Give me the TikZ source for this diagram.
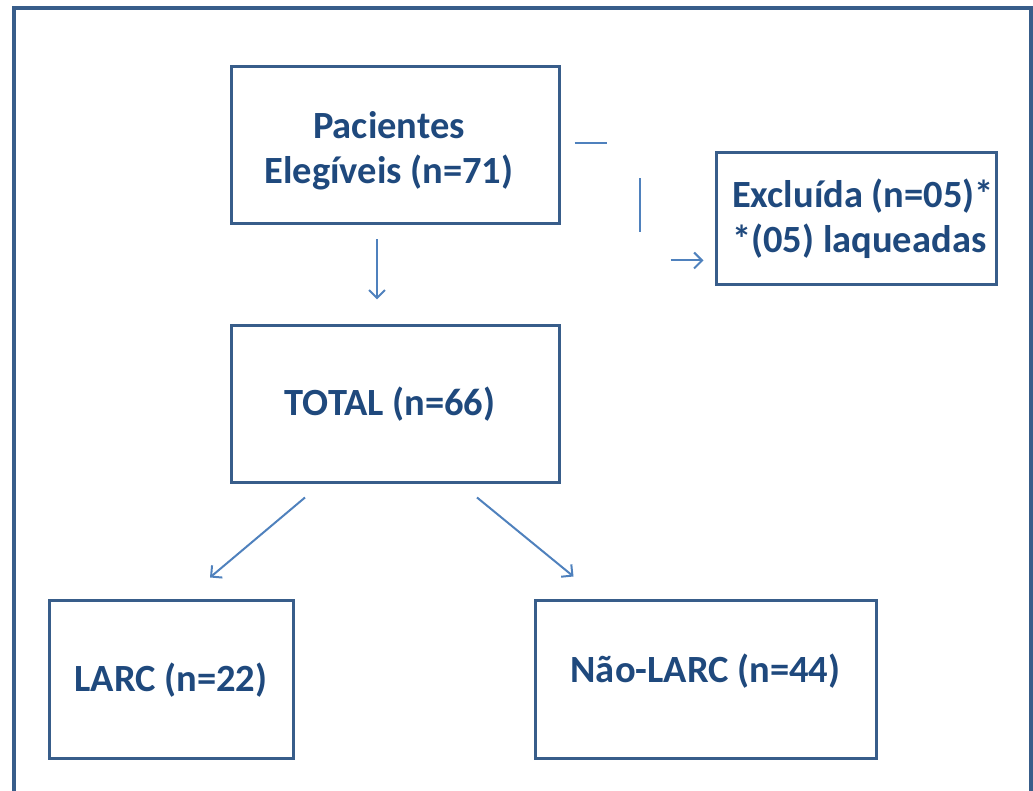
\documentclass[tikz,border=0pt]{standalone}
\usepackage{fontspec}
\setmainfont{Carlito}
\usetikzlibrary{positioning, arrows.meta}

\definecolor{boxline}{RGB}{56,93,138}
\definecolor{boxtext}{RGB}{31,73,125}
\definecolor{connline}{RGB}{79,129,189}

% shift text inside a box without changing its size
\newcommand{\nudge}[3]{\hspace*{#1}\raisebox{#2}[\height][\depth]{#3}}

\begin{document}
\begin{tikzpicture}[
    x=1pt, y=1pt,
    >={Straight Barb[length=8pt, width=16pt]},
    box/.style={
      draw=boxline,
      line width=3pt,
      minimum height=157pt,
      text=boxtext,
      font=\fontsize{38.5}{45}\selectfont\bfseries,
      align=center,
      inner sep=2pt,
    },
    conn/.style={
      draw=connline,
      line width=2pt,
    },
  ]

  \useasboundingbox (0,0) rectangle (1033,791);

  % --- outer frame (bottom edge cut off) ---
  \draw[boxline, line width=3.5pt] (14,0) -- (14,783) -- (1031,783) -- (1031,0);

  % --- boxes ---
  \node[box, minimum width=328pt] (pac) at (395,645.5) {%
    \nudge{0pt}{-5pt}{Pacientes}\hspace*{12pt}\\
    \nudge{0pt}{-5pt}{Elegíveis (n=71)}\hspace*{12pt}%
  };
  \node[box, minimum width=328pt, below=99pt of pac] (tot) {TOTAL (n=66)\hspace*{10pt}};
  \node[box, minimum width=280pt, minimum height=132pt, align=left, inner sep=1pt] (excl) at (856,572) {%
    \nudge{14pt}{0pt}{Excluída (n=05)*}\\
    \nudge{14pt}{0pt}{*(05) laqueadas}%
  };
  \node[box, minimum width=244pt, minimum height=158pt] (larc) at (171,111) {LARC (n=22)};
  \node[box, minimum width=341pt, minimum height=158pt] (nlarc) at (705.5,111) {\nudge{0pt}{9pt}{Não-LARC (n=44)}};

  % --- broken connector to the excluded box ---
  \coordinate (h1) at ([xshift=14pt, yshift=-78pt]pac.north east);
  \coordinate (v1) at ([xshift=79pt, yshift=-113pt]pac.north east);
  \coordinate (a1) at ([xshift=-44pt, yshift=-109pt]excl.north west);
  \draw[conn] (h1) -- ++(32,0);
  \draw[conn] (v1) -- ++(0,-54);
  \draw[conn, ->] (a1) -- ([xshift=-11pt]excl.west |- a1);

  % --- downward arrows ---
  \draw[conn, ->] ([xshift=-18pt, yshift=-14pt]pac.south) -- ([xshift=-18pt, yshift=25pt]tot.north);
  \draw[conn, ->] ([xshift=-90pt, yshift=-13pt]tot.south) -- ([xshift=39pt, yshift=22pt]larc.north);
  \draw[conn, ->] ([xshift=82pt, yshift=-13pt]tot.south) -- ([xshift=-132pt, yshift=23pt]nlarc.north);

\end{tikzpicture}
\end{document}
